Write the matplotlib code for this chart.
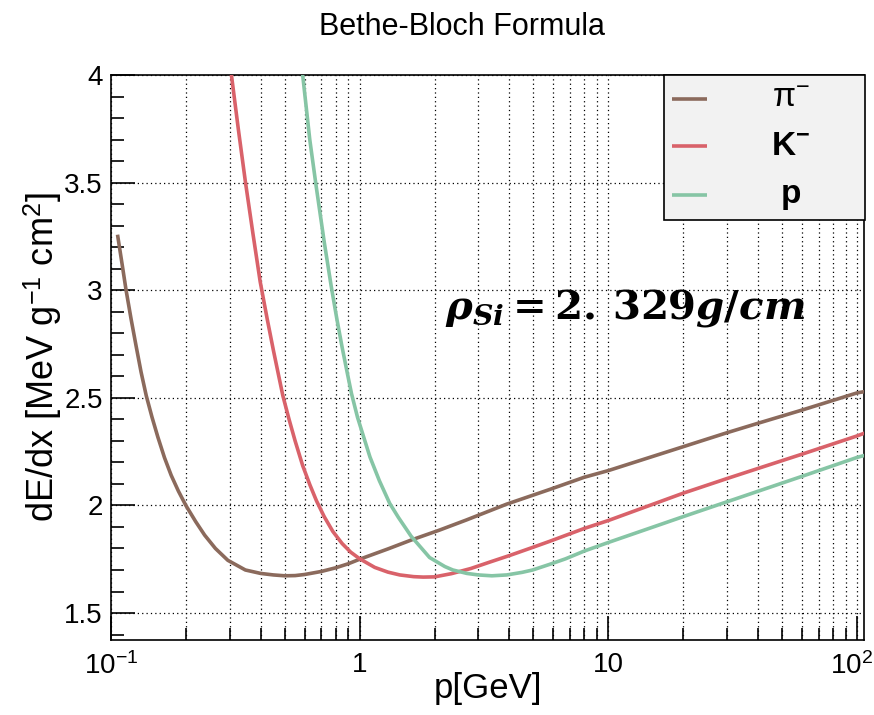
import matplotlib
matplotlib.use("Agg")
import matplotlib.pyplot as plt
from matplotlib.patches import Rectangle
from matplotlib.ticker import FixedLocator, MultipleLocator, NullFormatter
from matplotlib.transforms import ScaledTranslation

plt.rcParams['font.family'] = ['Liberation Sans', 'DejaVu Sans']
plt.rcParams['mathtext.fontset'] = 'custom'
plt.rcParams['mathtext.rm'] = 'DejaVu Serif:bold'
plt.rcParams['mathtext.it'] = 'DejaVu Serif:bold:italic'
plt.rcParams['mathtext.bf'] = 'DejaVu Serif:bold'

# values
pion_p = [0.1065, 0.1107, 0.115, 0.1205, 0.1263, 0.1321, 0.1386, 0.1462, 0.1543, 0.1641, 0.1746,
          0.1866, 0.2, 0.219, 0.238, 0.263, 0.295, 0.347, 0.4, 0.45, 0.5, 0.55, 0.6, 0.7, 0.8, 0.9,
          1.0, 1.3, 1.61, 2.09, 2.68, 3.9, 5.8, 8, 10, 20, 30, 40, 60, 100, 106]
pion_dedx = [3.25, 3.125, 3.0, 2.865, 2.738, 2.62, 2.51, 2.41, 2.318, 2.222, 2.14,
             2.067, 2.0, 1.925, 1.862, 1.80, 1.745, 1.70, 1.684, 1.677, 1.673, 1.674, 1.679, 1.693,
             1.710, 1.729, 1.750, 1.798, 1.839, 1.885, 1.932, 2.006, 2.074, 2.131, 2.162, 2.273,
             2.338, 2.382, 2.443, 2.523, 2.528]

kaon_p = [0.305, 0.325, 0.347, 0.372, 0.398, 0.425, 0.45, 0.47, 0.491, 0.52, 0.55, 0.59, 0.63,
          0.67, 0.72, 0.78, 0.85, 0.92, 1.0, 1.15, 1.3, 1.45, 1.65, 1.8, 2.0, 2.34, 2.8, 3.34, 4.0,
          4.96, 5.8, 8, 10, 20, 30, 40, 60, 100, 106]
kaon_dedx = [4.0, 3.75, 3.505, 3.265, 3.04, 2.865, 2.72, 2.615, 2.51, 2.40, 2.30, 2.185, 2.097,
             2.022, 1.948, 1.879, 1.823, 1.783, 1.752, 1.712, 1.69, 1.677, 1.669, 1.667, 1.668,
             1.683, 1.707, 1.737, 1.767, 1.805, 1.833, 1.893, 1.93, 2.057, 2.125, 2.172, 2.238,
             2.323, 2.334]

proton_p = [0.59, 0.63, 0.669, 0.72, 0.768, 0.81, 0.85, 0.89, 0.927, 0.98, 1.03, 1.1, 1.2, 1.32,
            1.43, 1.61, 1.91, 2.2, 2.37, 2.7, 3.0, 3.4, 3.9, 4.5, 4.96, 5.8, 6.73, 8, 10, 20, 30,
            40, 60, 100, 106]
proton_dedx = [4.0, 3.70, 3.48, 3.225, 3.02, 2.865, 2.735, 2.62, 2.52, 2.41, 2.33, 2.225, 2.115,
               2.01, 1.945, 1.857, 1.758, 1.716, 1.700, 1.684, 1.677, 1.673, 1.677, 1.689, 1.700,
               1.726, 1.752, 1.788, 1.828, 1.948, 2.017, 2.066, 2.135, 2.223, 2.231]

series = [
    (pion_p, pion_dedx, '#8b6a5c', r'$\mathdefault{\pi^{-}}$', 'normal'),
    (kaon_p, kaon_dedx, '#d9626a', r'$\mathdefault{K^{-}}$', 'bold'),
    (proton_p, proton_dedx, '#86c5a5', 'p', 'bold'),
]

x_major = [0.1, 1, 10, 100]
x_major_labels = [r'$\mathdefault{10^{-1}}$', '1', '10', r'$\mathdefault{10^{2}}$']
x_minor = [m * d for d in (0.1, 1, 10) for m in range(2, 10)]
y_major = [1.5, 2, 2.5, 3, 3.5, 4]
y_major_labels = ['1.5', '2', '2.5', '3', '3.5', '4']

fig = plt.figure(figsize=(8.74, 7.15), dpi=100)
ax = fig.add_axes([0.127, 0.105, 0.8616, 0.790])

for p, dedx, color, label, weight in series:
    ax.plot(p, dedx, color=color, lw=2.6, solid_joinstyle='round', zorder=3)

ax.set_xscale('log')
ax.set_xlim(0.1, 106.7)
ax.set_ylim(1.375, 4.0)

ax.xaxis.set_major_locator(FixedLocator(x_major))
ax.xaxis.set_minor_locator(FixedLocator(x_minor))
ax.set_xticklabels(x_major_labels)
ax.xaxis.set_minor_formatter(NullFormatter())
ax.yaxis.set_minor_locator(MultipleLocator(0.1))
ax.set_yticks(y_major)
ax.set_yticklabels(y_major_labels)

ax.tick_params(which='major', direction='in', length=17, width=1.2, labelsize=20, pad=6)
ax.tick_params(which='minor', direction='in', length=9, width=1.2)
ax.tick_params(axis='x', which='major', pad=9)

# keep the last exponent label inside the figure
last = ax.get_xticklabels()[-1]
last.set_transform(last.get_transform() + ScaledTranslation(-6 / 100, 0, fig.dpi_scale_trans))

grid_style = dict(color='black', lw=0.9, linestyle=(0, (1, 2.5)))
ax.grid(True, which='major', axis='both', **grid_style)
ax.grid(True, which='minor', axis='x', **grid_style)
ax.set_axisbelow(True)
for s in ax.spines.values():
    s.set_linewidth(1.2)

ax.set_xlabel('p[GeV]', fontsize=25)
ax.xaxis.set_label_coords(0.5, -0.057)
ax.set_ylabel(r'dE/dx [MeV g$^{\mathdefault{-1}}$ cm$^{\mathdefault{2}}$]', fontsize=26)
ax.yaxis.set_label_coords(-0.063, 0.5)

fig.text(0.529, 0.962, 'Bethe-Bloch Formula', fontsize=22, ha='center', va='center')

ax.text(0.4436, 0.588, r'$\rho_{Si} = 2.\,329g/cm$', transform=ax.transAxes,
        fontsize=29, ha='left', va='center', zorder=4)

# legend box drawn in the ROOT style
leg_x0, leg_x1, leg_y0, leg_y1 = 0.735, 1.0015, 0.743, 1.0
ax.add_patch(Rectangle((leg_x0, leg_y0), leg_x1 - leg_x0, leg_y1 - leg_y0, transform=ax.transAxes,
                       facecolor='#f2f2f2', edgecolor='black', lw=1.2, zorder=5, clip_on=False))
row_y = [0.958, 0.874, 0.788]
for (p, dedx, color, label, weight), yy in zip(series, row_y):
    ax.plot([0.745, 0.792], [yy, yy], color=color, lw=2.6, transform=ax.transAxes,
            zorder=6, clip_on=False, solid_capstyle='butt')
    ax.text(0.903, yy, label, transform=ax.transAxes, fontsize=24, fontweight=weight,
            ha='center', va='center', zorder=6)

fig.savefig('out.png', dpi=100)
